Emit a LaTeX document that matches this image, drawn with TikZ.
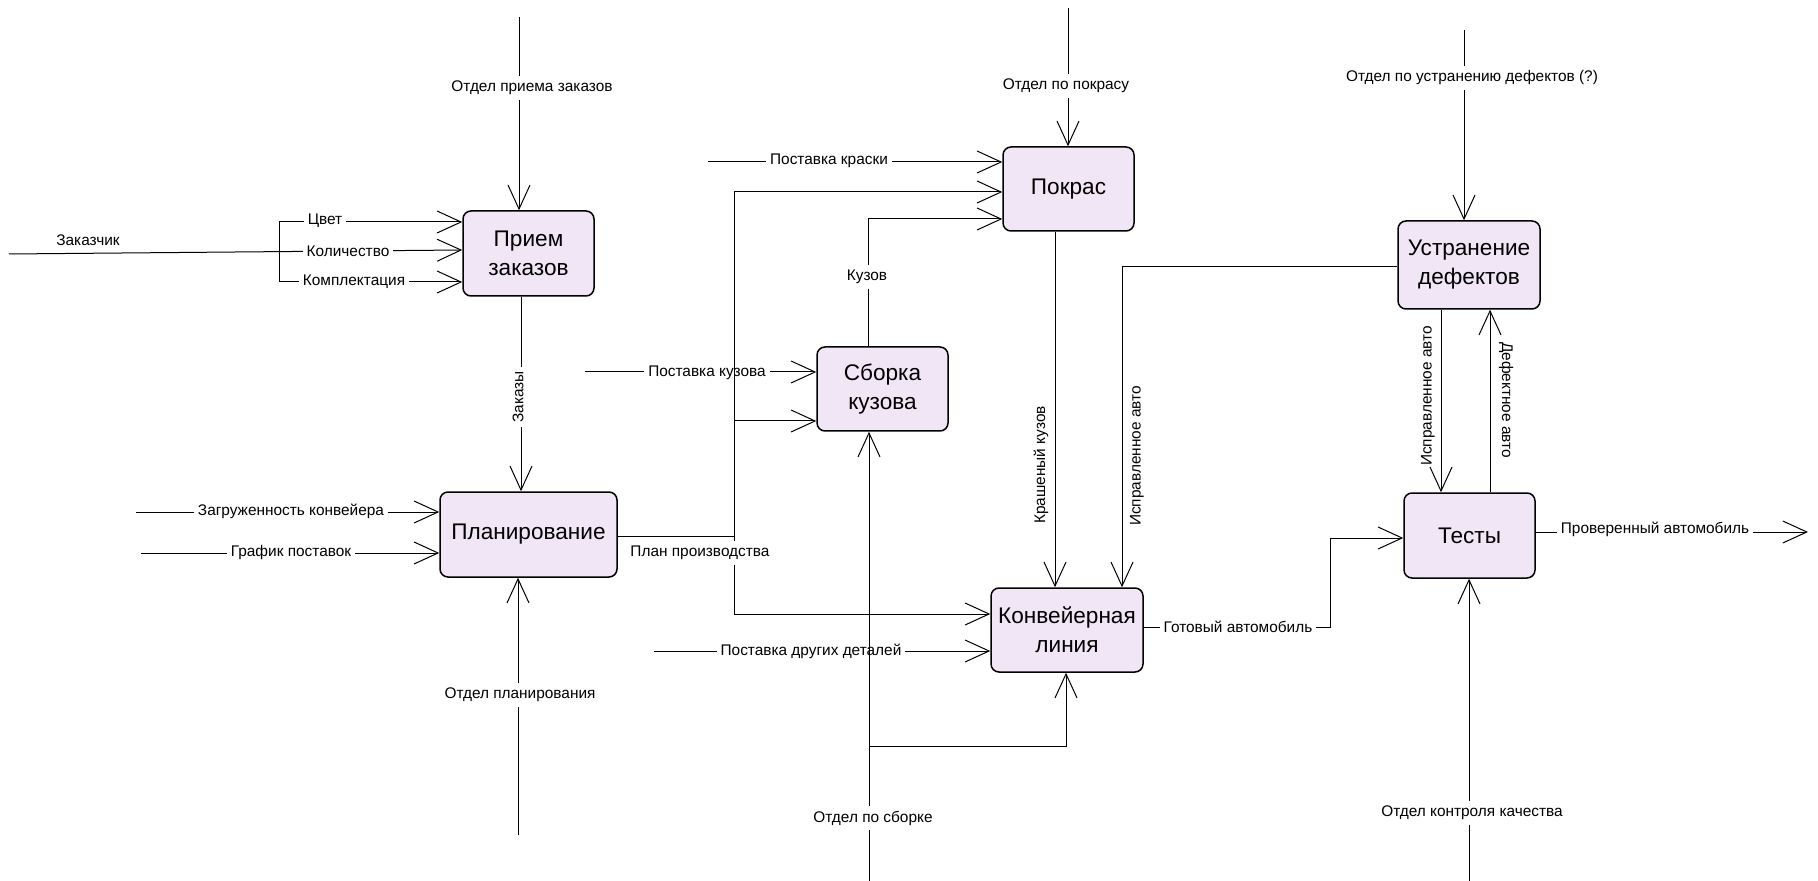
\documentclass[tikz,border=0pt]{standalone}
\usepackage{fontspec}
\setmainfont{Liberation Sans}
\usetikzlibrary{arrows.meta}
\definecolor{boxfill}{RGB}{241,230,245}
\begin{document}
\begin{tikzpicture}[x=0.5pt,y=-0.5pt,
  line width=0.5pt,
  box/.style={draw, line width=0.75pt, rounded corners=4pt, fill=boxfill, align=center, inner sep=0pt, font=\fontsize{11.3}{14.5}\selectfont},
  lbl/.style={font=\fontsize{7.7}{9}\selectfont, fill=white, inner xsep=2pt, inner ysep=2.5pt},
  lblnf/.style={font=\fontsize{7.7}{9}\selectfont, inner sep=1pt},
  arr/.style={-{Straight Barb[length=12pt,width=11pt]}},
]
\fill[white] (0,0) rectangle (1818,881);
\useasboundingbox (0,0) rectangle (1818,881);

% boxes
\node[box, minimum width=65.5pt, minimum height=42.5pt] (priem) at (528.5,253.5) {Прием\\заказов};
\node[box, minimum width=65.5pt, minimum height=42pt] (pokras) at (1068.5,189) {Покрас};
\node[box, minimum width=71pt, minimum height=44pt] (ustr) at (1469,265) {Устранение\\дефектов};
\node[box, minimum width=65.5pt, minimum height=42pt] (sborka) at (882.5,389) {Сборка\\кузова};
\node[box, minimum width=88.5pt, minimum height=42.5pt] (plan) at (528.5,534.5) {Планирование};
\node[box, minimum width=76pt, minimum height=42pt] (konv) at (1067,630) {Конвейерная\\линия};
\node[box, minimum width=65.5pt, minimum height=42.5pt] (testy) at (1469.5,535.5) {Тесты};

% labels crossed by other connectors (drawn first)
\coordinate (pkuz) at (585,372);
\draw[arr] (pkuz) -- (pkuz -| sborka.west);
\node[lbl] at (707,373) {Поставка кузова};
\coordinate (drug) at (654,651);
\draw[arr] (drug) -- (drug -| konv.west);
\node[lbl] at (811,651) {Поставка других деталей};

% Прием заказов
\coordinate (otdPriem) at (519,17);
\draw[arr] (otdPriem) -- (otdPriem |- priem.north);
\node[lbl] at (532,88) {Отдел приема заказов};

\coordinate (zak) at (9,254);
\coordinate (kolY) at (0,250);
\draw[arr] (zak) -- (priem.west |- kolY);
\node[lblnf] at (88,240) {Заказчик};
\coordinate (br1) at (279,222);
\coordinate (br2) at (279,282);
\draw (br1) -- (br2);
\draw[arr] (br1) -- (br1 -| priem.west);
\draw[arr] (br2) -- (br2 -| priem.west);
\node[lbl] at (325,221) {Цвет};
\node[lbl] at (348,251) {Количество};
\node[lbl] at (354,282) {Комплектация};

% Заказы
\coordinate (zx) at (521,0);
\draw[arr] (zx |- priem.south) -- (zx |- plan.north);
\node[lbl, rotate=90] at (518,397) {Заказы};

% Планирование
\coordinate (otdPlan) at (518,835);
\draw[arr] (otdPlan) -- (otdPlan |- plan.south);
\node[lbl] at (520,695) {Отдел планирования};
\coordinate (zagr) at (136,512);
\draw[arr] (zagr) -- (zagr -| plan.west);
\node[lbl] at (291,511) {Загруженность конвейера};
\coordinate (graf) at (141,553);
\draw[arr] (graf) -- (graf -| plan.west);
\node[lbl] at (291,553) {График поставок};

% План производства
\coordinate (pp) at (734,536);
\coordinate (ppTop) at (734,192);
\coordinate (ppS) at (734,421);
\coordinate (ppBot) at (734,614);
\draw (pp -| plan.east) -- (pp);
\draw (ppTop) -- (ppBot);
\draw[arr] (ppTop) -- (ppTop -| pokras.west);
\draw[arr] (ppS) -- (ppS -| sborka.west);
\draw[arr] (ppBot) -- (ppBot -| konv.west);
\node[lbl] at (700,553) {План производства};

% Покрас
\coordinate (kraski) at (708,162);
\draw[arr] (kraski) -- (kraski -| pokras.west);
\node[lbl] at (829,161) {Поставка краски};
\coordinate (kuzTop) at (868,219);
\draw[arr] (kuzTop |- sborka.north) -- (kuzTop) -- (kuzTop -| pokras.west);
\node[lbl] at (867,277) {Кузов};
\coordinate (otdPokr) at (1068,8);
\draw[arr] (otdPokr) -- (otdPokr |- pokras.north);
\node[lbl] at (1066,86) {Отдел по покрасу};
\coordinate (krx) at (1055,0);
\draw[arr] (krx |- pokras.south) -- (krx |- konv.north);
\node[lblnf, rotate=90] at (1041,465) {Крашеный кузов};

% Отдел по сборке
\coordinate (otdSb) at (869,881);
\coordinate (sbBr) at (869,746);
\coordinate (sbBr2) at (1066,746);
\draw[arr] (otdSb) -- (otdSb |- sborka.south);
\draw[arr] (sbBr) -- (sbBr2) -- (sbBr2 |- konv.south);
\node[lbl] at (873,818) {Отдел по сборке};

% Устранение дефектов
\coordinate (isp1) at (1122,267);
\draw[arr] (isp1 -| ustr.west) -- (isp1) -- (isp1 |- konv.north);
\node[lblnf, rotate=90] at (1137,456) {Исправленное авто};
\coordinate (otdUstr) at (1464,30);
\draw[arr] (otdUstr) -- (otdUstr |- ustr.north);
\node[lbl] at (1472,78) {Отдел по устранению дефектов (?)};
\coordinate (isp2) at (1441,0);
\draw[arr] (isp2 |- ustr.south) -- (isp2 |- testy.north);
\node[lblnf, rotate=90] at (1428,396) {Исправленное авто};
\coordinate (def) at (1490,0);
\draw[arr] (def |- testy.north) -- (def |- ustr.south);
\node[lblnf, rotate=-90] at (1506,400) {Дефектное авто};

% Тесты
\coordinate (got) at (1330,627);
\coordinate (got2) at (1330,538);
\draw[arr] (got -| konv.east) -- (got) -- (got2) -- (got2 -| testy.west);
\node[lbl] at (1238,627) {Готовый автомобиль};
\coordinate (prov) at (1808,532);
\draw[arr] (prov -| testy.east) -- (prov);
\node[lbl] at (1655,529) {Проверенный автомобиль};
\coordinate (otdKach) at (1469,881);
\draw[arr] (otdKach) -- (otdKach |- testy.south);
\node[lbl] at (1472,813) {Отдел контроля качества};
\end{tikzpicture}
\end{document}
